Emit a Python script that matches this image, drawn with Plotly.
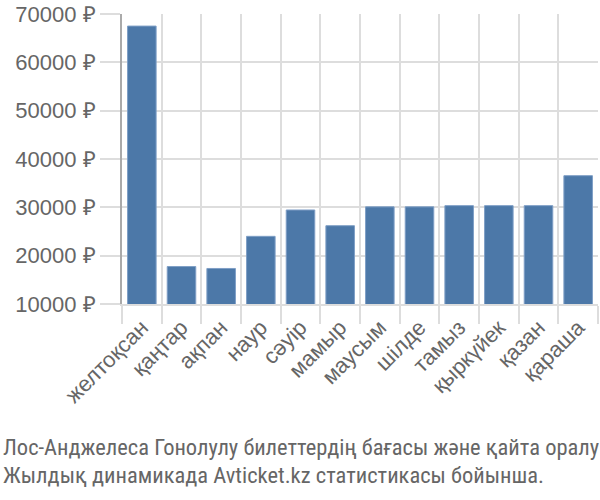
import plotly.graph_objects as go

months = ["желтоқсан", "қаңтар", "ақпан", "наур", "сәуір", "мамыр", "маусым",
          "шілде", "тамыз", "қыркүйек", "қазан", "қараша"]
prices = [67500, 17750, 17350, 24000, 29450, 26200, 30100, 30100, 30350, 30350, 30350, 36550]
y_ticks = [10000, 20000, 30000, 40000, 50000, 60000, 70000]
y_labels = [f"{v} ₽" for v in y_ticks]
caption = ["Лос-Анджелеса Гонолулу билеттердің бағасы және қайта оралу",
           "Жылдық динамикада Avticket.kz статистикасы бойынша."]

TICKFONT = dict(family="Liberation Sans, Arial, sans-serif", size=22, color="#666666")

fig = go.Figure(go.Bar(
    x=months, y=prices,
    marker=dict(color="#4c78a8", line=dict(color="#7f9fc6", width=1)),
))

fig.update_layout(
    width=600, height=500,
    margin=dict(l=122, r=2, t=14, b=196),
    plot_bgcolor="white", paper_bgcolor="white",
    bargap=0.28,
    showlegend=False,
    font=dict(family="Liberation Sans, Arial, sans-serif", color="#666666", size=20),
)
fig.update_xaxes(
    type="category", tickson="boundaries", tickangle=-45,
    showgrid=True, gridcolor="#dddddd", gridwidth=2,
    ticks="outside", ticklen=18, tickcolor="#dddddd", tickwidth=2,
    showline=True, linecolor="#dddddd", linewidth=2,
    tickfont=TICKFONT,
)
fig.update_yaxes(
    range=[10000, 70000], tickvals=y_ticks, ticktext=y_labels,
    showgrid=True, gridcolor="#dddddd", gridwidth=2,
    ticks="outside", ticklen=20, tickcolor="#dddddd", tickwidth=2,
    showline=True, linecolor="#aaaaaa", linewidth=2,
    zeroline=False,
    tickfont=TICKFONT,
)
for i, line in enumerate(caption):
    fig.add_annotation(
        text=line, xref="paper", yref="paper", x=0, xanchor="left",
        xshift=-121, y=0, yshift=-143 - 28 * i, yanchor="middle",
        showarrow=False,
        font=dict(family="Roboto Condensed, sans-serif", size=22.5, color="#666666"),
    )

fig.write_html("out.html")
